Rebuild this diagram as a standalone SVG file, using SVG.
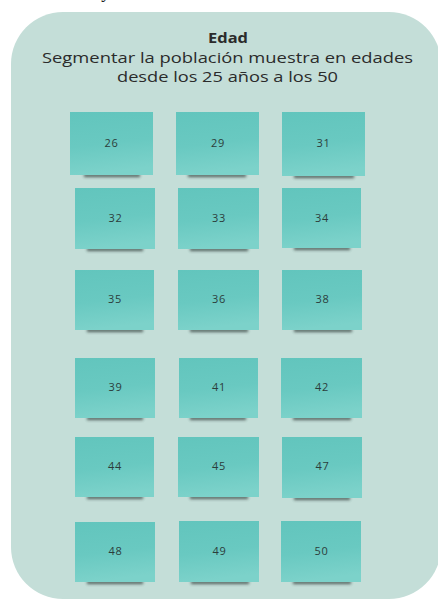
<svg xmlns="http://www.w3.org/2000/svg" width="438" height="600" viewBox="0 0 438 600">
<defs>
<linearGradient id="stick" x1="0" y1="0" x2="0.15" y2="1">
<stop offset="0" stop-color="#62c5bd"/>
<stop offset="0.55" stop-color="#69c9c1"/>
<stop offset="1" stop-color="#7cd2ca"/>
</linearGradient>
<filter id="blur" x="-20%" y="-200%" width="140%" height="500%">
<feGaussianBlur stdDeviation="1.5"/>
</filter>
</defs>
<style>
.bg{fill:#c4ded8}
.note{fill:url(#stick)}
.sh{fill:#2f3a38;opacity:0.8;filter:url(#blur)}
.num{font-family:"Open Sans","Noto Sans",sans-serif;font-size:11px;letter-spacing:0.8px;fill:#2c3d3b;text-anchor:middle}
.title{font-family:"Open Sans","Noto Sans",sans-serif;fill:#2b2b2b;text-anchor:middle}
</style>
<rect width="438" height="600" fill="#ffffff"/>
<text x="103" y="-2" font-family="Liberation Serif, serif" font-style="italic" font-size="18" fill="#222">y</text>
<g id="container">
<rect class="bg" x="11" y="12" width="430" height="587" rx="52" ry="52"/>
<text class="title" x="228" y="43" font-size="14" font-weight="bold" textLength="40" lengthAdjust="spacingAndGlyphs">Edad</text>
<text class="title" x="227.5" y="63" font-size="13.8" fill="#3a3a3a" textLength="371" lengthAdjust="spacingAndGlyphs">Segmentar la población muestra en edades</text>
<text class="title" x="227.5" y="82" font-size="13.8" fill="#3a3a3a" textLength="221" lengthAdjust="spacingAndGlyphs">desde los 25 años a los 50</text>
</g>
<g id="connectors"></g>
<g id="n26"><rect class="sh" x="84" y="174" width="56" height="3"/><rect class="note" x="70" y="112" width="83" height="63"/><text class="num" x="111.5" y="147">26</text></g>
<g id="n29"><rect class="sh" x="188" y="174" width="58" height="3"/><rect class="note" x="176" y="112" width="83" height="63"/><text class="num" x="218" y="147">29</text></g>
<g id="n31"><rect class="sh" x="294" y="175" width="60" height="3"/><rect class="note" x="282" y="112" width="83" height="64"/><text class="num" x="323.5" y="147">31</text></g>
<g id="n32"><rect class="sh" x="87" y="248" width="56" height="3"/><rect class="note" x="75" y="188" width="80" height="61"/><text class="num" x="115.5" y="222">32</text></g>
<g id="n33"><rect class="sh" x="190" y="248" width="58" height="3"/><rect class="note" x="178" y="188" width="81" height="61"/><text class="num" x="219" y="222">33</text></g>
<g id="n34"><rect class="sh" x="294" y="247" width="56" height="3"/><rect class="note" x="282" y="188" width="79" height="60"/><text class="num" x="322" y="222">34</text></g>
<g id="n35"><rect class="sh" x="87" y="329" width="56" height="3"/><rect class="note" x="75" y="270" width="79" height="60"/><text class="num" x="115" y="303">35</text></g>
<g id="n36"><rect class="sh" x="190" y="329" width="58" height="3"/><rect class="note" x="178" y="270" width="81" height="60"/><text class="num" x="219" y="303">36</text></g>
<g id="n38"><rect class="sh" x="294" y="329" width="58" height="3"/><rect class="note" x="282" y="270" width="80" height="60"/><text class="num" x="322.5" y="303">38</text></g>
<g id="n39"><rect class="sh" x="87" y="417" width="56" height="3"/><rect class="note" x="75" y="358" width="80" height="60"/><text class="num" x="115.5" y="391">39</text></g>
<g id="n41"><rect class="sh" x="190" y="417" width="56" height="3"/><rect class="note" x="179" y="358" width="79" height="60"/><text class="num" x="219" y="391">41</text></g>
<g id="n42"><rect class="sh" x="293" y="417" width="58" height="3"/><rect class="note" x="281" y="358" width="81" height="60"/><text class="num" x="322" y="391">42</text></g>
<g id="n44"><rect class="sh" x="87" y="496" width="56" height="3"/><rect class="note" x="75" y="437" width="79" height="60"/><text class="num" x="115" y="470">44</text></g>
<g id="n45"><rect class="sh" x="190" y="496" width="58" height="3"/><rect class="note" x="178" y="437" width="81" height="60"/><text class="num" x="219" y="470">45</text></g>
<g id="n47"><rect class="sh" x="294" y="497" width="56" height="3"/><rect class="note" x="282" y="437" width="80" height="61"/><text class="num" x="322.5" y="470">47</text></g>
<g id="n48"><rect class="sh" x="87" y="581" width="56" height="3"/><rect class="note" x="75" y="522" width="80" height="60"/><text class="num" x="115.5" y="555">48</text></g>
<g id="n49"><rect class="sh" x="191" y="581" width="58" height="3"/><rect class="note" x="179" y="521" width="80" height="61"/><text class="num" x="219.5" y="555">49</text></g>
<g id="n50"><rect class="sh" x="293" y="581" width="58" height="3"/><rect class="note" x="281" y="521" width="80" height="61"/><text class="num" x="321.5" y="555">50</text></g>
</svg>
